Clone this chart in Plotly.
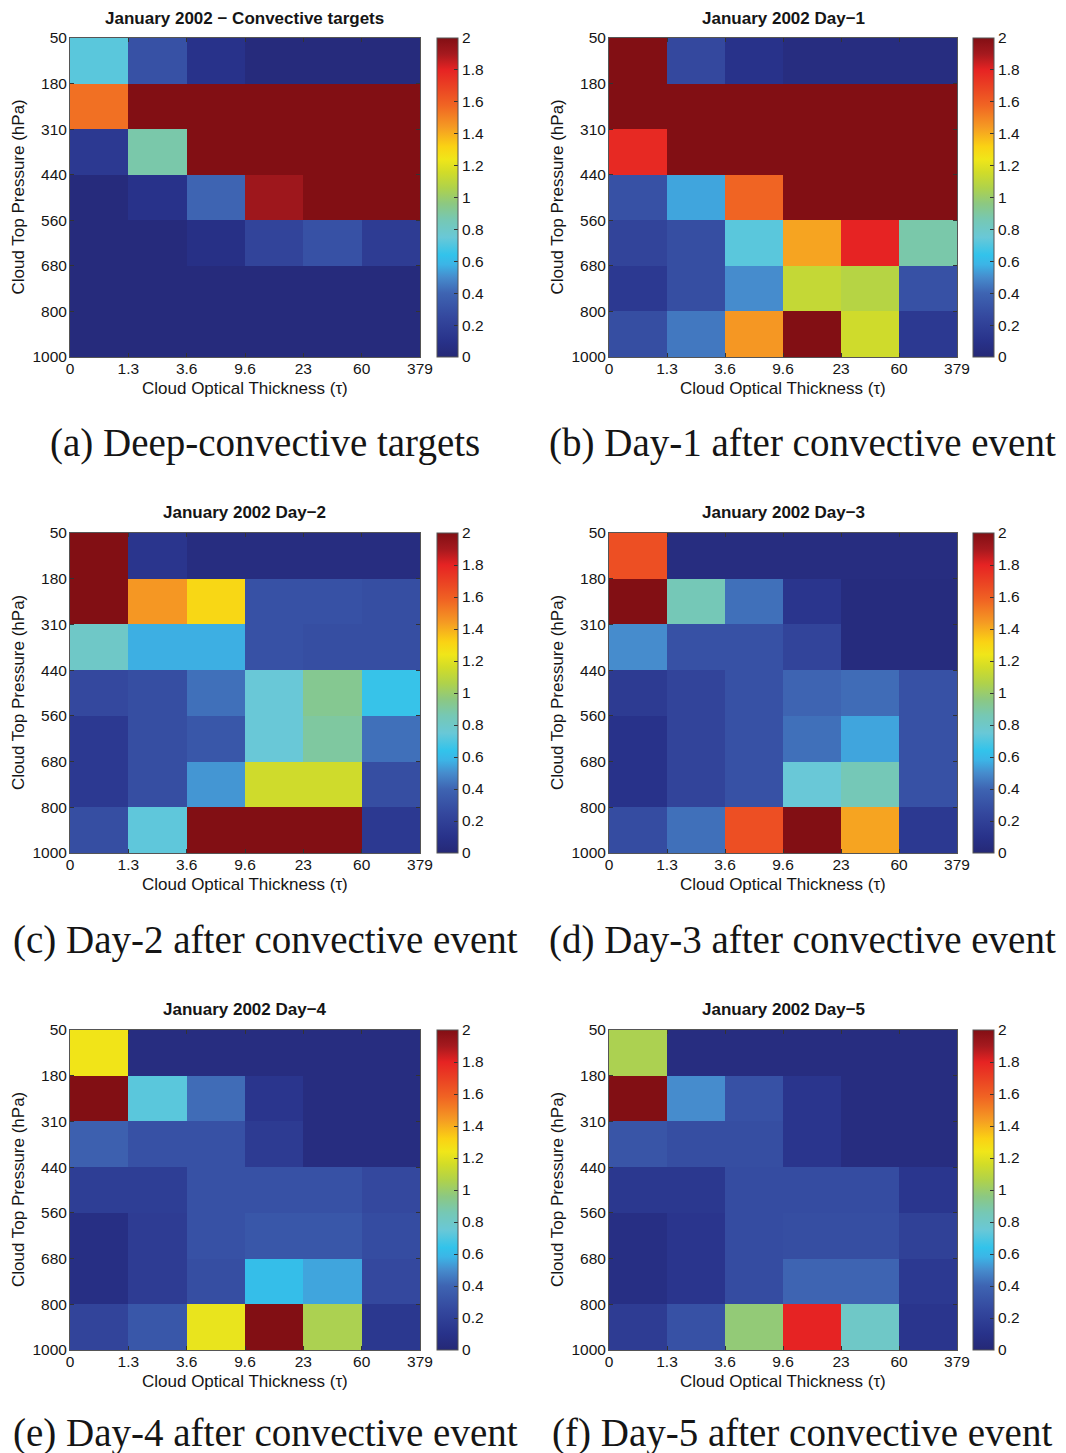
import plotly.graph_objects as go

# ---------------- data ----------------
tau_labels = ["0", "1.3", "3.6", "9.6", "23", "60", "379"]
pressure_labels = ["50", "180", "310", "440", "560", "680", "800", "1000"]

panel_titles = [
    "January 2002 \u2212 Convective targets",
    "January 2002 Day\u22121",
    "January 2002 Day\u22122",
    "January 2002 Day\u22123",
    "January 2002 Day\u22124",
    "January 2002 Day\u22125",
]
captions = [
    "(a) Deep-convective targets",
    "(b) Day-1 after convective event",
    "(c) Day-2 after convective event",
    "(d) Day-3 after convective event",
    "(e) Day-4 after convective event",
    "(f) Day-5 after convective event",
]

# rows: pressure bins from top (50-180) to bottom (800-1000); cols: tau bins
targets = [
    [0.72, 0.30, 0.10, 0.03, 0.03, 0.03],
    [1.55, 2.00, 2.00, 2.00, 2.00, 2.00],
    [0.15, 0.88, 2.00, 2.00, 2.00, 2.00],
    [0.03, 0.10, 0.40, 1.92, 2.00, 2.00],
    [0.03, 0.03, 0.08, 0.22, 0.30, 0.17],
    [0.03, 0.03, 0.03, 0.03, 0.03, 0.03],
    [0.03, 0.03, 0.03, 0.03, 0.03, 0.03],
]
day1 = [
    [2.00, 0.25, 0.10, 0.05, 0.05, 0.05],
    [2.00, 2.00, 2.00, 2.00, 2.00, 2.00],
    [1.78, 2.00, 2.00, 2.00, 2.00, 2.00],
    [0.30, 0.55, 1.58, 2.00, 2.00, 2.00],
    [0.22, 0.28, 0.72, 1.42, 1.80, 0.88],
    [0.15, 0.28, 0.50, 1.12, 1.08, 0.30],
    [0.28, 0.45, 1.45, 2.00, 1.15, 0.15],
]
day2 = [
    [2.00, 0.12, 0.05, 0.05, 0.05, 0.05],
    [2.00, 1.45, 1.30, 0.30, 0.30, 0.28],
    [0.80, 0.57, 0.57, 0.30, 0.28, 0.28],
    [0.25, 0.28, 0.43, 0.75, 0.93, 0.65],
    [0.15, 0.28, 0.33, 0.75, 0.90, 0.43],
    [0.15, 0.28, 0.52, 1.15, 1.15, 0.28],
    [0.28, 0.73, 2.00, 2.00, 2.00, 0.15],
]
day3 = [
    [1.65, 0.05, 0.05, 0.05, 0.05, 0.05],
    [2.00, 0.85, 0.43, 0.12, 0.04, 0.04],
    [0.50, 0.30, 0.30, 0.22, 0.04, 0.04],
    [0.16, 0.22, 0.30, 0.40, 0.42, 0.30],
    [0.10, 0.22, 0.30, 0.43, 0.55, 0.30],
    [0.10, 0.22, 0.30, 0.75, 0.85, 0.30],
    [0.27, 0.43, 1.65, 2.00, 1.42, 0.15],
]
day4 = [
    [1.25, 0.05, 0.05, 0.05, 0.05, 0.05],
    [2.00, 0.72, 0.42, 0.12, 0.05, 0.05],
    [0.38, 0.30, 0.30, 0.16, 0.05, 0.05],
    [0.18, 0.18, 0.30, 0.30, 0.30, 0.25],
    [0.07, 0.17, 0.30, 0.33, 0.33, 0.27],
    [0.07, 0.17, 0.28, 0.62, 0.55, 0.25],
    [0.22, 0.33, 1.22, 2.00, 1.05, 0.14],
]
day5 = [
    [1.05, 0.05, 0.05, 0.05, 0.05, 0.05],
    [2.00, 0.50, 0.30, 0.12, 0.05, 0.05],
    [0.32, 0.28, 0.28, 0.12, 0.05, 0.05],
    [0.14, 0.14, 0.27, 0.27, 0.27, 0.13],
    [0.07, 0.12, 0.27, 0.28, 0.28, 0.20],
    [0.07, 0.12, 0.27, 0.40, 0.40, 0.15],
    [0.17, 0.30, 0.98, 1.80, 0.80, 0.12],
]
panels = [targets, day1, day2, day3, day4, day5]

colorbar_ticks = [0, 0.2, 0.4, 0.6, 0.8, 1, 1.2, 1.4, 1.6, 1.8, 2]
colorbar_ticktext = ["0", "0.2", "0.4", "0.6", "0.8", "1", "1.2", "1.4", "1.6", "1.8", "2"]

# printed (muted) jet colormap
jet_muted = [
    [0.00, "rgb(37,40,118)"],
    [0.05, "rgb(40,50,138)"],
    [0.125, "rgb(52,72,158)"],
    [0.20, "rgb(62,100,178)"],
    [0.25, "rgb(70,140,205)"],
    [0.29, "rgb(60,180,230)"],
    [0.32, "rgb(50,195,235)"],
    [0.375, "rgb(105,200,215)"],
    [0.43, "rgb(118,200,180)"],
    [0.48, "rgb(140,200,130)"],
    [0.53, "rgb(175,210,75)"],
    [0.58, "rgb(210,220,40)"],
    [0.62, "rgb(240,230,25)"],
    [0.66, "rgb(250,210,20)"],
    [0.72, "rgb(245,155,35)"],
    [0.79, "rgb(240,100,35)"],
    [0.84, "rgb(235,70,35)"],
    [0.90, "rgb(230,35,35)"],
    [0.95, "rgb(165,25,30)"],
    [1.00, "rgb(130,15,20)"],
]

# ---------------- layout ----------------
W, H = 1066, 1453
col_x = [(70, 420, 437), (609, 957, 973)]      # plot left, plot right, colorbar left
row_y = [(38, 357), (533, 853), (1030, 1350)]   # plot top, plot bottom
caption_y = [443, 940, 1433]
caption_x = [265, 802]

SANS = "Liberation Sans, Arial, Helvetica, sans-serif"
SERIF = "Liberation Serif, Times New Roman, serif"
TXT = "#151515"


def px(x):
    return x / W


def py(y):
    return 1 - y / H


fig = go.Figure()
annotations = []
layout_axes = {}

x_edges = list(range(len(tau_labels)))
y_edges = list(range(len(pressure_labels)))

for i, z in enumerate(panels):
    r, c = divmod(i, 2)
    xl, xr, cbl = col_x[c]
    yt, yb = row_y[r]
    n = i + 1
    sfx = "" if n == 1 else str(n)
    ca = "coloraxis" + sfx
    fig.add_trace(go.Heatmap(
        z=z, x=x_edges, y=y_edges,
        coloraxis=ca,
        xaxis="x" + sfx, yaxis="y" + sfx,
        xgap=0, ygap=0,
    ))
    layout_axes["xaxis" + sfx] = dict(
        domain=[px(xl), px(xr)], anchor="y" + sfx,
        range=[0, len(tau_labels) - 1],
        tickvals=x_edges, ticktext=tau_labels,
        ticks="inside", ticklen=4, tickcolor="#333",
        ticklabelstandoff=-3,
        showline=True, linecolor="#555", linewidth=1, mirror="ticks",
        showgrid=False, zeroline=False, automargin=False,
        tickfont=dict(family=SANS, size=15.5, color=TXT),
    )
    layout_axes["yaxis" + sfx] = dict(
        domain=[py(yb), py(yt)], anchor="x" + sfx,
        range=[len(pressure_labels) - 1, 0],
        tickvals=y_edges, ticktext=pressure_labels,
        ticks="inside", ticklen=4, tickcolor="#333",
        ticklabelstandoff=-1,
        showline=True, linecolor="#555", linewidth=1, mirror="ticks",
        showgrid=False, zeroline=False, automargin=False,
        tickfont=dict(family=SANS, size=15.5, color=TXT),
    )
    layout_axes[ca] = dict(
        cmin=0, cmax=2, colorscale=jet_muted,
        colorbar=dict(
            x=px(cbl), xanchor="left", xpad=0,
            y=py(yt), yanchor="top", ypad=0,
            len=(yb - yt) / H, lenmode="fraction",
            thickness=21, thicknessmode="pixels",
            tickvals=colorbar_ticks, ticktext=colorbar_ticktext,
            ticks="inside", ticklen=4, tickcolor="#333",
            outlinewidth=1, outlinecolor="#555",
            tickfont=dict(family=SANS, size=15.5, color=TXT),
        ),
    )
    # panel title
    annotations.append(dict(
        x=px((xl + xr) / 2), y=py(yt - 20), xref="paper", yref="paper",
        text="<b>" + panel_titles[i] + "</b>", showarrow=False,
        xanchor="center", yanchor="middle",
        font=dict(family=SANS, size=17, color=TXT),
    ))
    # x title
    annotations.append(dict(
        x=px((xl + xr) / 2), y=py(yb + 31), xref="paper", yref="paper",
        text="Cloud Optical Thickness (\u03c4)", showarrow=False,
        xanchor="center", yanchor="middle",
        font=dict(family=SANS, size=17, color=TXT),
    ))
    # y title
    annotations.append(dict(
        x=px(xl - 52), y=py((yt + yb) / 2), xref="paper", yref="paper",
        text="Cloud Top Pressure (hPa)", showarrow=False, textangle=-90,
        xanchor="center", yanchor="middle",
        font=dict(family=SANS, size=17, color=TXT),
    ))
    # caption
    annotations.append(dict(
        x=px(caption_x[c]), y=py(caption_y[r]), xref="paper", yref="paper",
        text=captions[i], showarrow=False,
        xanchor="center", yanchor="middle",
        font=dict(family=SERIF, size=39, color=TXT),
    ))

fig.update_layout(
    template="none",
    width=W, height=H, autosize=False,
    margin=dict(l=0, r=0, t=0, b=0, pad=0, autoexpand=False),
    paper_bgcolor="white", plot_bgcolor="white",
    showlegend=False,
    annotations=annotations,
    **layout_axes,
)

fig.write_html(
    "out.html",
    config={"responsive": False, "displayModeBar": False},
    post_script="document.body.style.margin='0px';document.body.style.overflow='hidden';",
)
